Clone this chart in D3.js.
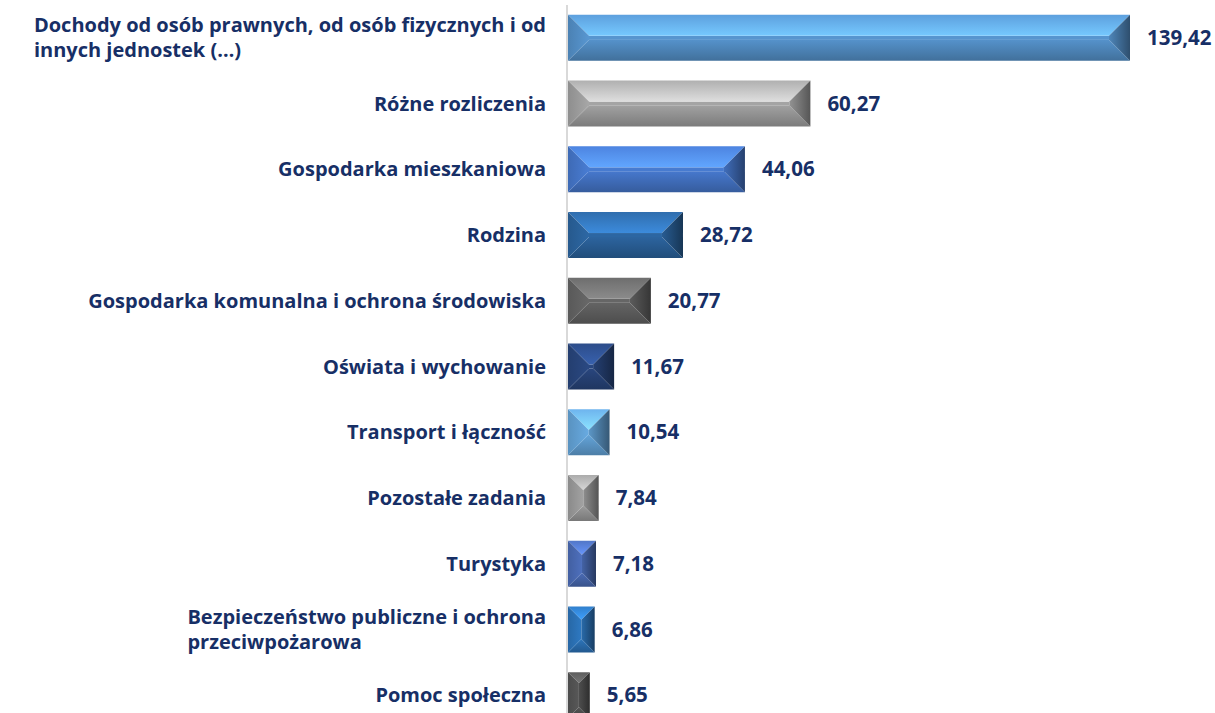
<!DOCTYPE html>
<html>
<head>
<meta charset="utf-8">
<script src="https://cdn.jsdelivr.net/npm/d3@7"></script>
<style>
  html, body { margin: 0; padding: 0; background: #ffffff; }
  svg { display: block; }
</style>
</head>
<body>
<div id="chart"></div>
<script>
// dane wykresu
const categories = [
  ['Dochody od osób prawnych, od osób fizycznych i od', 'innych jednostek (…)'],
  ['Różne rozliczenia'],
  ['Gospodarka mieszkaniowa'],
  ['Rodzina'],
  ['Gospodarka komunalna i ochrona środowiska'],
  ['Oświata i wychowanie'],
  ['Transport i łączność'],
  ['Pozostałe zadania'],
  ['Turystyka'],
  ['Bezpieczeństwo publiczne i ochrona', 'przeciwpożarowa'],
  ['Pomoc społeczna']
];
const values = [139.42, 60.27, 44.06, 28.72, 20.77, 11.67, 10.54, 7.84, 7.18, 6.86, 5.65];
const barColors = ['#5a9ad6', '#aaaaaa', '#4a7fd8', '#2e6aa8', '#6a6a6a', '#2b4a85',
                   '#6aaee6', '#a5a5a5', '#4f72c0', '#2f7bc5', '#5a5a5a'];

const width = 1215, height = 713;
const axisX = 567;
const textColor = '#172f66';
const font = '"Open Sans", "Noto Sans", sans-serif';

const svg = d3.select('#chart').append('svg')
  .attr('width', width)
  .attr('height', height);

const x = d3.scaleLinear().domain([0, 139.42]).range([axisX, 1130]);
const y = d3.scaleBand()
  .domain(d3.range(values.length))
  .range([5, 728])
  .paddingInner(0.3)
  .paddingOuter(0.15);

const data = values.map((v, i) => ({ i, value: v, label: categories[i], color: barColors[i] }));

// gradienty dla ścianek fazowania
const defs = svg.append('defs');
function grad(id, x2, y2, stops) {
  const g = defs.append('linearGradient').attr('id', id)
    .attr('x1', 0).attr('y1', 0).attr('x2', x2).attr('y2', y2);
  stops.forEach(([o, c]) => g.append('stop').attr('offset', o).attr('stop-color', c));
}
data.forEach(d => {
  const c = d3.color(d.color);
  grad(`top${d.i}`, 0, 1, [[0, c.brighter(0.1)], [1, c.brighter(0.75)]]);
  grad(`bot${d.i}`, 0, 1, [[0, c.darker(0.15)], [1, c.darker(0.9)]]);
  grad(`lft${d.i}`, 1, 0, [[0, c.darker(0.5)], [1, c.darker(0.05)]]);
  grad(`rgt${d.i}`, 1, 0, [[0, c.darker(0.4)], [1, c.darker(1.9)]]);
});

// oś pionowa
svg.append('line')
  .attr('x1', axisX).attr('x2', axisX)
  .attr('y1', 5).attr('y2', height)
  .attr('stroke', '#d9d9d9')
  .attr('stroke-width', 2);

const bars = svg.selectAll('.bar')
  .data(data)
  .enter()
  .append('g')
  .attr('class', 'bar')
  .attr('transform', d => `translate(${axisX + 1},${y(d.i)})`);

bars.each(function(d) {
  const g = d3.select(this);
  const w = x(d.value) - axisX - 1;
  const h = y.bandwidth();
  const b = Math.min(21, w / 2, h / 2);
  const faces = [
    ['top', [[0, 0], [w, 0], [w - b, b], [b, b]]],
    ['bot', [[b, h - b], [w - b, h - b], [w, h], [0, h]]],
    ['lft', [[0, 0], [b, b], [b, h - b], [0, h]]],
    ['rgt', [[w, 0], [w, h], [w - b, h - b], [w - b, b]]]
  ];
  // środek (płaska ściana)
  g.append('rect')
    .attr('x', b).attr('y', b)
    .attr('width', Math.max(0, w - 2 * b))
    .attr('height', Math.max(0, h - 2 * b))
    .attr('fill', d3.color(d.color).darker(0.1));
  faces.forEach(([name, pts]) => {
    g.append('polygon')
      .attr('points', pts.map(p => p.join(',')).join(' '))
      .attr('fill', `url(#${name}${d.i})`);
  });
});

// etykiety kategorii
const labels = svg.selectAll('.cat')
  .data(data)
  .enter()
  .append('text')
  .attr('class', 'cat')
  .style('font-family', font)
  .style('font-weight', '700')
  .style('font-size', '20px')
  .attr('fill', textColor);

labels.each(function(d) {
  const t = d3.select(this);
  const lh = 25;
  const cy = y(d.i) + y.bandwidth() / 2;
  const y0 = cy - (d.label.length - 1) * lh / 2;
  d.label.forEach((line, k) => {
    t.append('tspan').attr('y', y0 + k * lh).attr('dy', '0.35em').text(line);
  });
  // blok wyrównany do prawej, linie do lewej
  const maxW = d3.max(t.selectAll('tspan').nodes(), n => n.getComputedTextLength());
  t.selectAll('tspan').attr('x', 546 - maxW);
});

// wartości
svg.selectAll('.val')
  .data(data)
  .enter()
  .append('text')
  .attr('class', 'val')
  .attr('x', d => x(d.value) + 17)
  .attr('y', d => y(d.i) + y.bandwidth() / 2)
  .attr('dy', '0.35em')
  .style('font-family', font)
  .style('font-weight', '700')
  .style('font-size', '20.5px')
  .attr('fill', textColor)
  .text(d => d.value.toFixed(2).replace('.', ','));
</script>
</body>
</html>
